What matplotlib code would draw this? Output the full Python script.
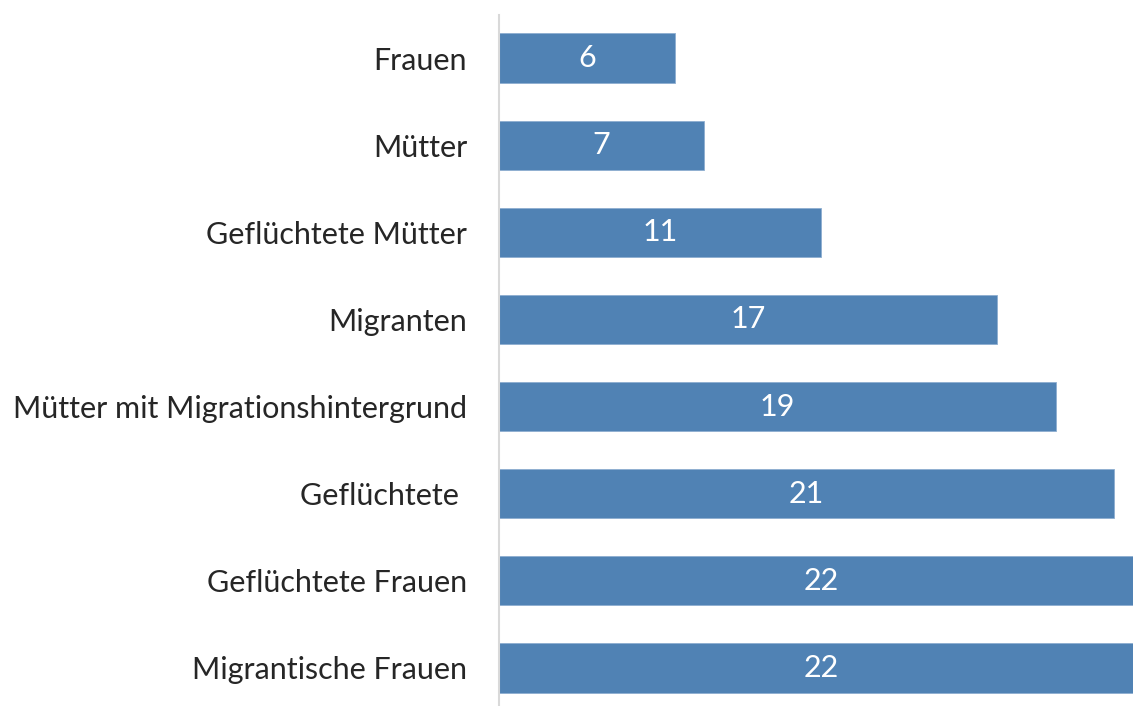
import matplotlib.pyplot as plt

categories = [
    "Frauen",
    "Mütter",
    "Geflüchtete Mütter",
    "Migranten",
    "Mütter mit Migrationshintergrund",
    "Geflüchtete ",
    "Geflüchtete Frauen",
    "Migrantische Frauen",
]
values = [6, 7, 11, 17, 19, 21, 22, 22]

BAR_COLOR = "#5082B4"
TEXT_COLOR = "#262626"


def create_bar_plot():
    fig = plt.figure(figsize=(11.33, 7.06), dpi=100)
    # axes runs off the right and bottom edge of the figure, like the original crop
    ax = fig.add_axes([499 / 1133, -5.5 / 706, 634 / 1133, 697 / 706])

    y = list(range(len(categories)))
    bars = ax.barh(y, values, height=0.565, color=BAR_COLOR,
                   edgecolor="#8DAED0", linewidth=0.6)

    ax.set_xlim(0, 634 / 29.3)
    ax.set_ylim(len(categories) - 0.5, -0.5)

    ax.set_yticks(y)
    ax.set_yticklabels(categories, fontsize=22, color=TEXT_COLOR, family="Lato")
    ax.tick_params(axis="y", length=0, pad=23)
    ax.set_xticks([])

    for side in ["top", "right", "bottom"]:
        ax.spines[side].set_visible(False)
    ax.spines["left"].set_color("#D9D9D9")
    ax.spines["left"].set_linewidth(1.5)

    for bar, v in zip(bars, values):
        ax.text(
            bar.get_width() / 2,
            bar.get_y() + bar.get_height() / 2,
            f"{v}",
            ha="center",
            va="center",
            color="white",
            fontsize=22,
            family="Lato",
        )

    fig.savefig("out.png", dpi=100)


if __name__ == "__main__":
    create_bar_plot()
